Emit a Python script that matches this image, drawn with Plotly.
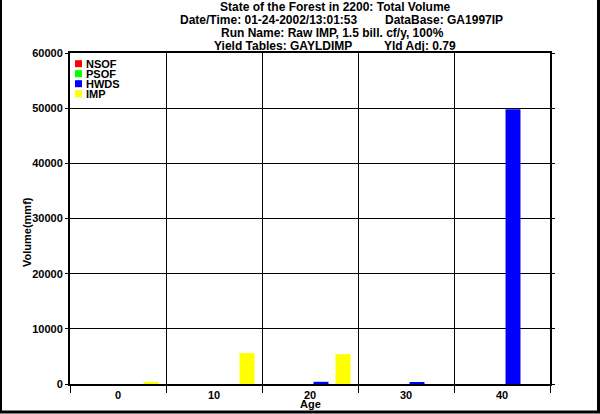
import plotly.graph_objects as go

ages = [0, 10, 20, 30, 40]
series_names = ["NSOF", "PSOF", "HWDS", "IMP"]
nsof = [0, 0, 0, 0, 0]
psof = [0, 0, 0, 0, 0]
hwds = [0, 0, 400, 200, 49800]
imp = [400, 5600, 5400, 0, 0]
series_values = [nsof, psof, hwds, imp]
colors = ["#FF0000", "#00FF00", "#0000FF", "#FFFF00"]
y_ticks = [0, 10000, 20000, 30000, 40000, 50000, 60000]

FONT = "Liberation Sans, Arial, sans-serif"
W, H = 600, 414
L, R, T, B = 70, 50, 53, 30
PW, PH = W - L - R, H - T - B

def px_x(x):
    return (x - L) / PW

def px_y(y):
    return 1 - (y - T) / PH

fig = go.Figure()
for name, vals, col in zip(series_names, series_values, colors):
    fig.add_trace(go.Bar(x=ages, y=vals, name=name, marker=dict(color=col, line=dict(width=0)),
                         showlegend=False, hoverinfo="skip"))

bold = dict(family=FONT, size=11, color="black", weight="bold")
tbold = dict(family=FONT, size=12, color="black", weight="bold")

fig.update_layout(
    width=W, height=H,
    margin=dict(l=L, r=R, t=T, b=B, autoexpand=False),
    paper_bgcolor="white", plot_bgcolor="white",
    barmode="group", bargap=0.083, bargroupgap=0.32,
    font=bold,
    xaxis=dict(
        range=[-5, 45], tickvals=ages, ticktext=[str(a) for a in ages],
        ticks="", showgrid=False, zeroline=False,
        showline=True, linecolor="black", linewidth=2, mirror=True,
        tickfont=bold, ticklabelstandoff=0,
        minor=dict(tick0=-5, dtick=10, ticks="outside", ticklen=7, tickwidth=1,
                   tickcolor="black", showgrid=True, gridcolor="black", gridwidth=1),
        automargin=False,
    ),
    yaxis=dict(
        range=[0, 60000], tickvals=y_ticks, ticktext=[str(v) for v in y_ticks],
        ticks="outside", ticklen=3, tickcolor="black", tickwidth=1,
        showgrid=True, gridcolor="black", gridwidth=1, zeroline=False,
        showline=True, linecolor="black", linewidth=2, mirror="ticks",
        tickfont=bold, automargin=False,
    ),
)

# axis titles
fig.add_annotation(text="Age", xref="paper", yref="paper", x=px_x(310), y=px_y(404),
                   showarrow=False, font=bold, xanchor="center", yanchor="middle")
fig.add_annotation(text="Volume(mmf)", xref="paper", yref="paper", x=px_x(27), y=px_y(232),
                   showarrow=False, font=bold, textangle=-90, xanchor="center", yanchor="middle")

# title lines
title_items = [
    ("State of the Forest in 2200: Total Volume", 335, 7, "center"),
    ("Date/Time: 01-24-2002/13:01:53", 178, 20, "left"),
    ("DataBase: GA1997IP", 383, 20, "left"),
    ("Run Name: Raw IMP, 1.5 bill. cf/y, 100%", 332, 33, "center"),
    ("Yield Tables: GAYLDIMP", 212, 46, "left"),
    ("Yld Adj: 0.79", 382, 46, "left"),
]
for txt, xp, yp, anc in title_items:
    fig.add_annotation(text=txt, xref="paper", yref="paper", x=px_x(xp), y=px_y(yp),
                       showarrow=False, font=tbold, xanchor=anc, yanchor="middle")

# legend (drawn manually for compact spacing)
for i, (name, col) in enumerate(zip(series_names, colors)):
    yc = 63.7 + i * 10
    fig.add_shape(type="rect", xref="paper", yref="paper",
                  x0=px_x(75), x1=px_x(82), y0=px_y(yc + 3.5), y1=px_y(yc - 3.5),
                  fillcolor=col, line=dict(width=0))
    fig.add_annotation(text=name, xref="paper", yref="paper", x=px_x(84), y=px_y(yc),
                       showarrow=False, font=bold, xanchor="left", yanchor="middle")

# outer frame
fig.add_shape(type="rect", xref="paper", yref="paper",
              x0=px_x(0.5), x1=px_x(598.5), y0=px_y(412), y1=px_y(-5),
              line=dict(color="black", width=3), fillcolor="rgba(0,0,0,0)", layer="above")

fig.write_html("out.html", config={"displayModeBar": False},
               post_script="document.body.style.margin='0';document.body.style.padding='0';")
